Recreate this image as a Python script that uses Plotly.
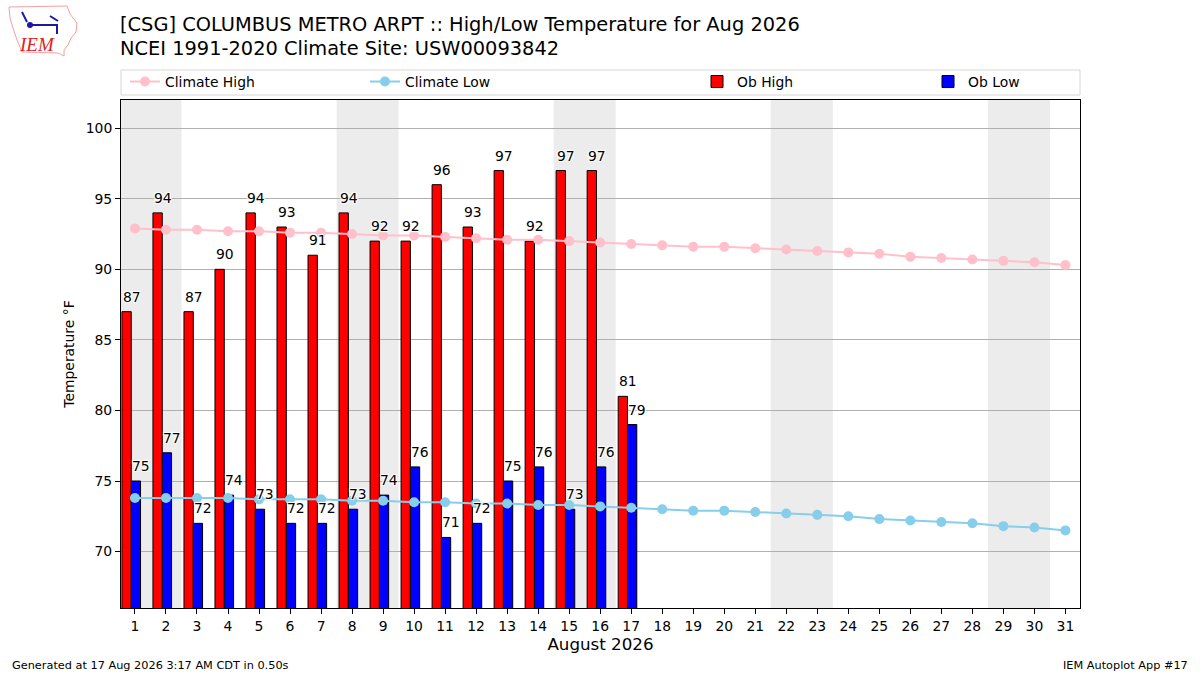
import datetime
import plotly.graph_objects as go

# August 2026 data for CSG
days = list(range(1, 32))
ob_high = [87, 94, 87, 90, 94, 93, 91, 94, 92, 92, 96, 93, 97, 92, 97, 97, 81]
ob_low = [75, 77, 72, 74, 73, 72, 72, 73, 74, 76, 71, 72, 75, 76, 73, 76, 79]
climate_high = [92.9, 92.8, 92.8, 92.7, 92.7, 92.6, 92.6, 92.5, 92.4, 92.4,
                92.3, 92.2, 92.1, 92.1, 92.0, 91.9, 91.8, 91.7, 91.6, 91.6,
                91.5, 91.4, 91.3, 91.2, 91.1, 90.9, 90.8, 90.7, 90.6, 90.5, 90.3]
climate_low = [73.8, 73.8, 73.8, 73.8, 73.7, 73.7, 73.7, 73.6, 73.6, 73.5,
               73.5, 73.4, 73.4, 73.3, 73.3, 73.2, 73.1, 73.0, 72.9, 72.9,
               72.8, 72.7, 72.6, 72.5, 72.3, 72.2, 72.1, 72.0, 71.8, 71.7, 71.5]
obs_days = days[:len(ob_high)]

FONT = "DejaVu Sans"
FS = 13.9
HALO = "1px 1px 1px #fff, -1px -1px 1px #fff, 1px -1px 1px #fff, -1px 1px 1px #fff"

# plot area in pixels, used to place things outside the axes
L, R, T, B = 121, 1080, 100, 608


def px(x, y):
    return (x - L) / (R - L), (B - y) / (B - T)


fig = go.Figure()

fig.add_trace(go.Scatter(x=days, y=climate_high, mode="lines+markers", name="Climate High",
                         line=dict(color="pink", width=2), marker=dict(size=10, color="pink"),
                         legend="legend"))
fig.add_trace(go.Scatter(x=days, y=climate_low, mode="lines+markers", name="Climate Low",
                         line=dict(color="skyblue", width=2), marker=dict(size=10, color="skyblue"),
                         legend="legend2"))
fig.add_trace(go.Bar(x=obs_days, y=ob_high, name="Ob High", offset=-0.42, width=0.3,
                     marker=dict(color="red", line=dict(color="black", width=1)),
                     legend="legend3"))
fig.add_trace(go.Bar(x=obs_days, y=ob_low, name="Ob Low", offset=-0.12, width=0.3,
                     marker=dict(color="blue", line=dict(color="black", width=1)),
                     legend="legend4"))

annotations = []

# value labels, left aligned on each bar
for d, v in zip(obs_days, ob_high):
    annotations.append(dict(x=d - 0.42, y=v, xref="x", yref="y", text=str(v), showarrow=False,
                            xanchor="left", yanchor="bottom", yshift=5, xshift=-1,
                            font=dict(family=FONT, size=FS, color="black", shadow=HALO)))
for d, v in zip(obs_days, ob_low):
    annotations.append(dict(x=d - 0.12, y=v, xref="x", yref="y", text=str(v), showarrow=False,
                            xanchor="left", yanchor="bottom", yshift=5, xshift=-1,
                            font=dict(family=FONT, size=FS, color="black", shadow=HALO)))

# weekend shading
shapes = []
for d in days:
    if datetime.date(2026, 8, d).weekday() == 5:
        shapes.append(dict(type="rect", xref="x", yref="paper", x0=d - 0.5, x1=d + 1.5,
                           y0=0, y1=1, fillcolor="#ececec", line=dict(width=0), layer="below"))

# legend frame
lx0, ly0 = px(121, 95)
lx1, ly1 = px(1080, 70)
shapes.append(dict(type="rect", xref="paper", yref="paper", x0=lx0, x1=lx1, y0=ly0, y1=ly1,
                   line=dict(color="#d6d6d6", width=1), fillcolor="white"))

# rough IEM logo
iowa = [(9, 7), (67, 6), (70, 14), (77, 23), (76, 32), (71, 38), (68, 45), (64, 50),
        (64, 56), (58, 53), (22, 52), (17, 40), (13, 28), (10, 18)]
path = "M " + " L ".join("%.4f,%.4f" % px(x, y) for x, y in iowa) + " Z"
shapes.append(dict(type="path", xref="paper", yref="paper", path=path,
                   line=dict(color="#f4a0a0", width=1)))
for (xa, ya), (xb, yb) in [((30, 25), (58, 25)), ((22, 12), (27, 22)), ((50, 16), (58, 21)),
                           ((57, 25), (57, 34))]:
    a = px(xa, ya)
    b = px(xb, yb)
    shapes.append(dict(type="line", xref="paper", yref="paper", x0=a[0], y0=a[1], x1=b[0], y1=b[1],
                       line=dict(color="#1a1aa0", width=2)))
c0 = px(27, 22)
c1 = px(33, 28)
shapes.append(dict(type="circle", xref="paper", yref="paper", x0=c0[0], y0=c0[1], x1=c1[0], y1=c1[1],
                   fillcolor="#1a1aa0", line=dict(width=0)))

t1x, t1y = px(118, 11)
t2x, t2y = px(118, 35)
annotations.append(dict(xref="paper", yref="paper", x=t1x, y=t1y, xanchor="left", yanchor="top",
                        showarrow=False,
                        text="[CSG] COLUMBUS METRO ARPT :: High/Low Temperature for Aug 2026",
                        font=dict(family=FONT, size=19.4, color="black")))
annotations.append(dict(xref="paper", yref="paper", x=t2x, y=t2y, xanchor="left", yanchor="top",
                        showarrow=False, text="NCEI 1991-2020 Climate Site: USW00093842",
                        font=dict(family=FONT, size=19.4, color="black")))
gx, gy = px(10, 665)
annotations.append(dict(xref="paper", yref="paper", x=gx, y=gy, xanchor="left", yanchor="middle",
                        showarrow=False, text="Generated at 17 Aug 2026 3:17 AM CDT in 0.50s",
                        font=dict(family=FONT, size=11.3, color="black")))
ax_, ay_ = px(1190, 665)
annotations.append(dict(xref="paper", yref="paper", x=ax_, y=ay_, xanchor="right", yanchor="middle",
                        showarrow=False, text="IEM Autoplot App #17",
                        font=dict(family=FONT, size=11.3, color="black")))
ix, iy = px(37, 45)
annotations.append(dict(xref="paper", yref="paper", x=ix, y=iy, xanchor="center", yanchor="middle",
                        showarrow=False, text="<i>IEM</i>",
                        font=dict(family="Liberation Serif", size=19, color="#e02020")))


def leg(xpix):
    x, y = px(xpix, 82)
    return dict(x=x, y=y, xanchor="left", yanchor="middle", orientation="h",
                bgcolor="rgba(0,0,0,0)", font=dict(family=FONT, size=FS, color="black"),
                itemwidth=30)


fig.update_layout(
    width=1200, height=675,
    margin=dict(l=L, r=1200 - R, t=T, b=675 - B),
    paper_bgcolor="white", plot_bgcolor="white",
    barmode="overlay", showlegend=True,
    shapes=shapes, annotations=annotations,
    legend=leg(125), legend2=leg(365), legend3=leg(697), legend4=leg(928),
    font=dict(family=FONT, size=FS, color="black"),
)
fig.update_xaxes(range=[0.55, 31.47], tickmode="array", tickvals=days,
                 ticktext=[str(d) for d in days], ticks="outside", ticklen=5,
                 tickcolor="black", showgrid=False, zeroline=False, showline=True,
                 linecolor="black", linewidth=1, mirror=True,
                 tickfont=dict(family=FONT, size=FS),
                 title=dict(text="August 2026", font=dict(family=FONT, size=16.7), standoff=5))
fig.update_yaxes(range=[66, 102], tickvals=[70, 75, 80, 85, 90, 95, 100], ticks="outside",
                 ticklen=5, tickcolor="black", showgrid=True, gridcolor="#b0b0b0",
                 zeroline=False, showline=True, linecolor="black", linewidth=1, mirror=True,
                 tickfont=dict(family=FONT, size=FS),
                 title=dict(text="Temperature °F", font=dict(family=FONT, size=FS), standoff=7))

fig.write_html("out.html", config={"displayModeBar": False},
               post_script="document.body.style.margin='0';")
